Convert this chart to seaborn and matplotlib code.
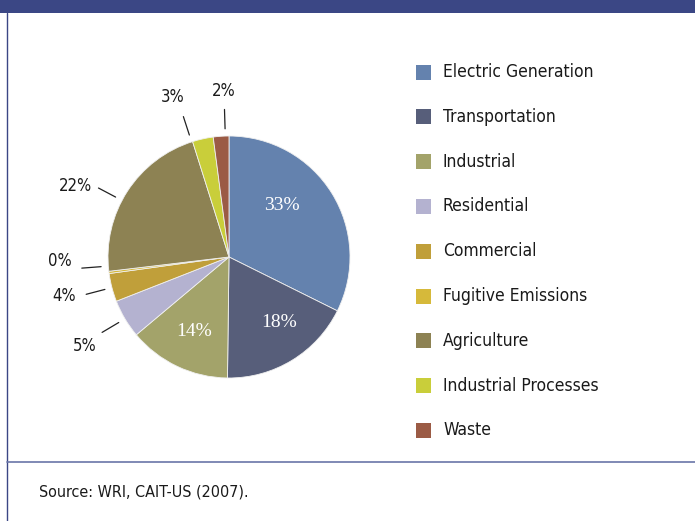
import numpy as np
import matplotlib
matplotlib.use("Agg")
import matplotlib.pyplot as plt
from matplotlib import font_manager as fm
import seaborn as sns

sectors = ["Electric Generation", "Transportation", "Industrial", "Residential",
           "Commercial", "Fugitive Emissions", "Agriculture",
           "Industrial Processes", "Waste"]
shares = [32.6, 18.0, 13.8, 5.2, 3.8, 0.3, 22.2, 2.8, 2.1]
colors = ["#6482ae", "#575e7a", "#a3a36a", "#b4b2d0", "#c09f3a",
          "#d6b93a", "#8d8253", "#c9ce3a", "#9b5b45"]
inside = ["Electric Generation", "Transportation", "Industrial"]
source = "Source: WRI, CAIT-US (2007)."

sns.set_theme(style="white")
plt.rcParams["font.family"] = ["Roboto", "DejaVu Sans"]


def pick_narrow():
    # look for any installed condensed / narrow sans face
    best = None
    for f in fm.fontManager.ttflist:
        n = f.name
        narrow = ("Narrow" in n or "Condensed" in n
                  or str(f.stretch) in ("condensed", "semi-condensed", "extra-condensed"))
        if not narrow or f.style != "normal" or "Mono" in n or "Serif" in n:
            continue
        w = f.weight if isinstance(f.weight, int) else 400
        score = abs(w - 400)
        if best is None or score < best[0]:
            best = (score, f.fname)
    if best:
        return dict(fontproperties=fm.FontProperties(fname=best[1]))
    return dict(family=["Roboto", "DejaVu Sans"])


nf = pick_narrow()


def txt(ax, x, y, s, size, **kw):
    t = ax.text(x, y, s, **nf, **kw)
    t.set_fontsize(size)
    return t


W, H = 695, 521
fig = plt.figure(figsize=(W / 100, H / 100), dpi=100)
fig.patch.set_facecolor("white")

# frame: top band, left rule, source divider
frame = fig.add_axes([0, 0, 1, 1])
frame.set_xlim(0, W)
frame.set_ylim(H, 0)
frame.axis("off")
frame.fill_between([0, W], 0, 13, color="#3b4785", lw=0)
frame.plot([6.5, 6.5], [13, H], color="#3b4785", lw=1)
frame.plot([6.5, W], [462, 462], color="#6a76a8", lw=1.2)
txt(frame, 39, 492, source, 11.5, va="center", color="#1a1a1a")

# pie: centre (229, 257) px, radius 121 px
cx, cy, r = 229, 257, 121
lim = 1.6
side = r * lim * 2
ax = fig.add_axes([(cx - side / 2) / W, (H - cy - side / 2) / H, side / W, side / H])
wedges, _ = ax.pie(shares, colors=colors, startangle=90, counterclock=False,
                   radius=1, wedgeprops=dict(edgecolor="#f0f0f0", linewidth=0.6))
ax.set_xlim(-lim, lim)
ax.set_ylim(-lim, lim)
ax.set_aspect("equal")
ax.axis("off")

# small angular nudges (deg) so labels sit where the original put them
text_nudge = {"Electric Generation": 12, "Transportation": 6, "Agriculture": 8,
              "Industrial Processes": 7, "Waste": -2, "Fugitive Emissions": -6,
              "Commercial": -1.5, "Residential": 1}
line_nudge = {"Agriculture": 5, "Industrial Processes": 5.5, "Waste": -2,
              "Fugitive Emissions": -3}

for w, name, v in zip(wedges, sectors, shares):
    mid = (w.theta1 + w.theta2) / 2
    a = np.deg2rad(mid + text_nudge.get(name, 0))
    lab = f"{round(v)}%"
    if name in inside:
        rr = 0.61 if name == "Electric Generation" else 0.68
        ax.text(rr * np.cos(a), rr * np.sin(a), lab, color="white", fontsize=14,
                family=["Liberation Serif", "DejaVu Serif"], ha="center", va="center")
    else:
        b = np.deg2rad(mid + line_nudge.get(name, 0))
        ax.plot([1.22 * np.cos(b), 1.06 * np.cos(b)], [1.22 * np.sin(b), 1.06 * np.sin(b)],
                color="#222222", lw=0.9, clip_on=False)
        rt = 1.37 if name == "Waste" else 1.40
        txt(ax, rt * np.cos(a), rt * np.sin(a), lab, 12, color="#1a1a1a",
            ha="center", va="center")

# legend
lg = fig.add_axes([0, 0, 1, 1], facecolor="none")
lg.set_xlim(0, W)
lg.set_ylim(H, 0)
lg.axis("off")
for i, (name, col) in enumerate(zip(sectors, colors)):
    y = 72 + i * 44.8
    lg.add_patch(plt.Rectangle((416, y - 7.5), 15, 15, color=col, lw=0))
    txt(lg, 443, y, name, 12.5, va="center", color="#1a1a1a")

fig.savefig("out.png", dpi=100)
